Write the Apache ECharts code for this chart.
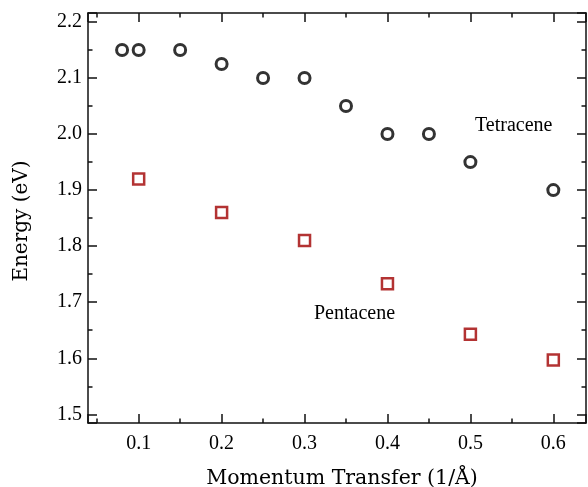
<!DOCTYPE html>
<html><head><meta charset="utf-8">
<script src="https://cdn.jsdelivr.net/npm/echarts@6/dist/echarts.min.js"></script>
<style>html,body{margin:0;padding:0;background:#fff}#c{width:588px;height:487px}</style>
</head><body><div id="c"></div>
<script>
const tetraceneQ = [0.08, 0.1, 0.15, 0.2, 0.25, 0.3, 0.35, 0.4, 0.45, 0.5, 0.6];
const tetraceneE = [2.15, 2.15, 2.15, 2.125, 2.1, 2.1, 2.05, 2.0, 2.0, 1.95, 1.9];
const pentaceneQ = [0.1, 0.2, 0.3, 0.4, 0.5, 0.6];
const pentaceneE = [1.92, 1.86, 1.81, 1.733, 1.643, 1.597];
const xRange = [0.0389, 0.6394];
const yRange = [1.4845, 2.216];

const FONT = '"Liberation Serif", serif';
const TFONT = '"DejaVu Serif", serif';
const chart = echarts.init(document.getElementById('c'), null, {renderer: 'canvas'});
function axisCommon(showLabel, margin) {
  return {
    axisLine: {show: true, onZero: false, lineStyle: {color: '#111', width: 1.5}},
    axisTick: {show: true, inside: true, length: 9, lineStyle: {color: '#111', width: 1.5}},
    minorTick: {show: true, splitNumber: 2, length: 4.5, lineStyle: {color: '#111', width: 1.5}},
    splitLine: {show: false},
    axisLabel: {show: showLabel, showMinLabel: false, showMaxLabel: false,
      color: '#000', fontFamily: FONT, fontSize: 20, margin: margin,
      formatter: v => (Math.round(v * 10) / 10).toFixed(1)}
  };
}
const option = {
  animation: false,
  backgroundColor: '#fff',
  grid: {left: 88, right: 2, top: 13, bottom: 64, containLabel: false, outerBoundsMode: 'none'},
  xAxis: [
    Object.assign({type: 'value', position: 'bottom', min: xRange[0], max: xRange[1], splitNumber: 6,
      name: 'Momentum Transfer (1/Å)', nameLocation: 'middle', nameGap: 45,
      nameTextStyle: {color: '#000', fontFamily: TFONT, fontSize: 20.5, padding: [0, 0, 0, 10]}}, axisCommon(true, 11)),
    Object.assign({type: 'value', position: 'top', min: xRange[0], max: xRange[1], splitNumber: 6}, axisCommon(false, 8))
  ],
  yAxis: [
    Object.assign({type: 'value', position: 'left', min: yRange[0], max: yRange[1], splitNumber: 7,
      name: 'Energy (eV)', nameLocation: 'middle', nameGap: 56,
      nameTextStyle: {color: '#000', fontFamily: TFONT, fontSize: 20, padding: [0, 6, 0, 0]}}, axisCommon(true, 6)),
    Object.assign({type: 'value', position: 'right', min: yRange[0], max: yRange[1], splitNumber: 7}, axisCommon(false, 8))
  ],
  series: [
    {type: 'scatter', name: 'Tetracene', symbol: 'circle', symbolSize: 11,
      itemStyle: {color: '#fff', borderColor: '#000', borderWidth: 3},
      data: tetraceneQ.map((q, i) => [q, tetraceneE[i]])},
    {type: 'scatter', name: 'Pentacene', symbol: 'rect', symbolSize: 11,
      itemStyle: {color: '#fff', borderColor: '#a00000', borderWidth: 2.5},
      data: pentaceneQ.map((q, i) => [q, pentaceneE[i]])}
  ],
  graphic: [
    {type: 'text', left: 475, top: 116, style: {text: 'Tetracene', fill: '#000', font: '20px ' + FONT}},
    {type: 'text', left: 314, top: 304, style: {text: 'Pentacene', fill: '#000', font: '20px ' + FONT}}
  ]
};
chart.setOption(option);
</script></body></html>
